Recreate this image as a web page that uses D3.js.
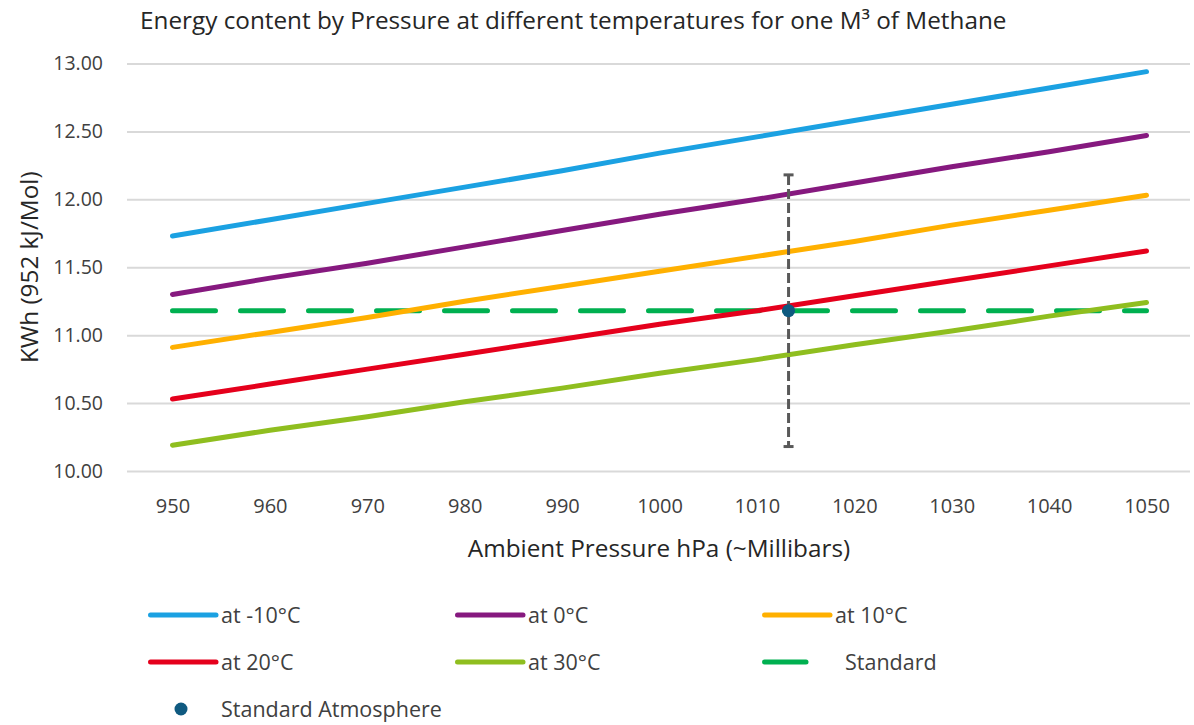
<!DOCTYPE html>
<html>
<head>
<meta charset="utf-8">
<script src="https://cdn.jsdelivr.net/npm/d3@7"></script>
<style>
  html, body { margin: 0; padding: 0; background: #fff; }
  svg { display: block; font-family: "Open Sans", "Noto Sans", sans-serif; }
</style>
</head>
<body>
<svg id="chart" width="1194" height="725"></svg>
<script>
// ---- data ----
const pressures = [950, 960, 970, 980, 990, 1000, 1010, 1020, 1030, 1040, 1050];
const yTicks = [10.0, 10.5, 11.0, 11.5, 12.0, 12.5, 13.0];
const seriesNames = ["at -10°C", "at 0°C", "at 10°C", "at 20°C", "at 30°C", "Standard"];
const tMinus10 = [11.73, 11.85, 11.97, 12.09, 12.21, 12.34, 12.46, 12.58, 12.70, 12.82, 12.94];
const t0       = [11.30, 11.42, 11.53, 11.65, 11.77, 11.89, 12.00, 12.12, 12.24, 12.35, 12.47];
const t10      = [10.91, 11.02, 11.13, 11.25, 11.36, 11.47, 11.58, 11.69, 11.81, 11.92, 12.03];
const t20      = [10.53, 10.64, 10.75, 10.86, 10.97, 11.08, 11.18, 11.29, 11.40, 11.51, 11.62];
const t30      = [10.19, 10.30, 10.40, 10.51, 10.61, 10.72, 10.82, 10.93, 11.03, 11.14, 11.24];
const standard = [11.18, 11.18, 11.18, 11.18, 11.18, 11.18, 11.18, 11.18, 11.18, 11.18, 11.18];
const stdAtmPressure = 1013.25;
const stdAtmValue = 11.18;
const stdAtmError = 1.0;
const colors = ["#1BA1E2", "#86197F", "#FFB000", "#E5001C", "#8FBE1F", "#00B050"];
const pointColor = "#0F5A80";

const title = "Energy content by Pressure at different temperatures for one M³ of Methane";
const yTitle = "KWh (952 kJ/Mol)";
const xTitle = "Ambient Pressure hPa (~Millibars)";

const seriesValues = [tMinus10, t0, t10, t20, t30, standard];
const series = seriesNames.map((name, i) => ({
  name, color: colors[i], dashed: name === "Standard",
  points: pressures.map((p, j) => ({ p, v: seriesValues[i][j] }))
}));

// ---- layout ----
const svg = d3.select("#chart");
const x = d3.scaleLinear().domain([950, 1050]).range([172.5, 1146.5]);
const y = d3.scaleLinear().domain([10, 13]).range([471, 63.5]);
const gridLeft = 127, gridRight = 1190;
const fontFam = "'Open Sans', 'Noto Sans', sans-serif";

// title
svg.append("text")
  .attr("x", 140).attr("y", 29)
  .attr("font-size", 24.3).attr("fill", "#262626")
  .text(title);

// y axis with gridlines
const yAxis = svg.append("g")
  .attr("transform", `translate(${gridLeft},0)`)
  .call(d3.axisLeft(y).tickValues(yTicks).tickFormat(d3.format(".2f"))
    .tickSize(-(gridRight - gridLeft)).tickPadding(24));
yAxis.select(".domain").remove();
yAxis.selectAll(".tick line").attr("stroke", "#D9D9D9").attr("stroke-width", 2);
yAxis.selectAll(".tick text").attr("font-size", 19.5).attr("fill", "#404040")
  .attr("font-family", fontFam);

// x axis
const xAxis = svg.append("g")
  .attr("transform", `translate(0,${y(10)})`)
  .call(d3.axisBottom(x).tickValues(pressures).tickFormat(d3.format("d"))
    .tickSize(0).tickPadding(28));
xAxis.select(".domain").remove();
xAxis.selectAll(".tick text").attr("font-size", 20).attr("fill", "#404040")
  .attr("font-family", fontFam);

// axis titles
svg.append("text")
  .attr("transform", `translate(38,${(y(10) + y(13)) / 2}) rotate(-90)`)
  .attr("text-anchor", "middle").attr("font-size", 24.3).attr("fill", "#262626")
  .text(yTitle);
svg.append("text")
  .attr("x", 659).attr("y", 557)
  .attr("text-anchor", "middle").attr("font-size", 24.3).attr("fill", "#262626")
  .text(xTitle);

// lines
const line = d3.line().x(d => x(d.p)).y(d => y(d.v));
const drawOrder = [5, 0, 1, 2, 3, 4];
drawOrder.forEach(i => {
  const s = series[i];
  svg.append("path")
    .datum(s.points)
    .attr("fill", "none")
    .attr("stroke", s.color)
    .attr("stroke-width", 5)
    .attr("stroke-linecap", "round")
    .attr("stroke-linejoin", "round")
    .attr("stroke-dasharray", s.dashed ? "43 25" : null)
    .attr("d", line);
});

// error bar for standard atmosphere
const ex = x(stdAtmPressure);
const eg = svg.append("g").attr("stroke", "#595959").attr("stroke-width", 3);
eg.append("line")
  .attr("x1", ex).attr("x2", ex)
  .attr("y1", y(stdAtmValue + stdAtmError)).attr("y2", y(stdAtmValue - stdAtmError))
  .attr("stroke-dasharray", "10 4");
[stdAtmValue + stdAtmError, stdAtmValue - stdAtmError].forEach(v => {
  eg.append("line").attr("x1", ex - 5).attr("x2", ex + 5)
    .attr("y1", y(v)).attr("y2", y(v));
});
svg.append("circle")
  .attr("cx", ex).attr("cy", y(stdAtmValue)).attr("r", 6.5)
  .attr("fill", pointColor);

// legend
const legendCols = [148, 455, 762];
const legendRows = [615, 662, 709];
const lg = svg.append("g");
series.forEach((s, i) => {
  const cx = legendCols[i % 3], cy = legendRows[Math.floor(i / 3)];
  if (s.dashed) {
    lg.append("line").attr("x1", cx + 2.5).attr("x2", cx + 44).attr("y1", cy).attr("y2", cy)
      .attr("stroke", s.color).attr("stroke-width", 5).attr("stroke-linecap", "round");
    lg.append("text").attr("x", cx + 83).attr("y", cy).attr("dy", "0.35em")
      .attr("font-size", 21.5).attr("fill", "#404040").text(s.name);
  } else {
    lg.append("line").attr("x1", cx + 2.5).attr("x2", cx + 68).attr("y1", cy).attr("y2", cy)
      .attr("stroke", s.color).attr("stroke-width", 5).attr("stroke-linecap", "round");
    lg.append("text").attr("x", cx + 73).attr("y", cy).attr("dy", "0.35em")
      .attr("font-size", 21.5).attr("fill", "#404040").text(s.name);
  }
});
lg.append("circle").attr("cx", 181).attr("cy", legendRows[2]).attr("r", 6.5).attr("fill", pointColor);
lg.append("text").attr("x", 221).attr("y", legendRows[2]).attr("dy", "0.35em")
  .attr("font-size", 21.5).attr("fill", "#404040").text("Standard Atmosphere");
</script>
</body>
</html>
